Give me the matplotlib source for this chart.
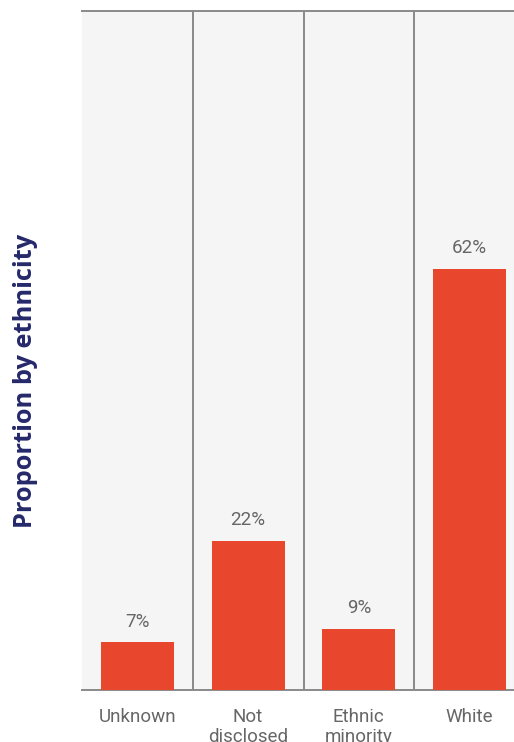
import matplotlib
matplotlib.use("Agg")
import matplotlib.pyplot as plt

categories = ["Unknown", "Not\ndisclosed", "Ethnic\nminority", "White"]
values = [7, 22, 9, 62]
value_labels = ["7%", "22%", "9%", "62%"]

fig = plt.figure(figsize=(5.14, 7.42), dpi=100)
L, R, T, B = 82, 525, 11, 690
W, H = 514, 742
ax = fig.add_axes([L / W, 1 - B / H, (R - L) / W, (B - T) / H])
ax.set_facecolor("#f5f5f5")

x = list(range(len(categories)))
ax.bar(x, values, width=0.66, color="#e8472e", zorder=3)
for xi, v, lab in zip(x, values, value_labels):
    ax.text(xi, v + 1.7, lab, ha="center", va="bottom", fontsize=13.5,
            color="#666666", family="Roboto")

for b in [0.5, 1.5, 2.5]:
    ax.axvline(b, color="#8a8a8a", lw=1.4, zorder=2)

ax.set_xlim(-0.5, 3.5)
ax.set_ylim(0, 100)
ax.set_yticks([])
ax.set_xticks(x)
ax.set_xticklabels(categories, fontsize=13.5, color="#666666", family="Roboto",
                   linespacing=1.15)
ax.tick_params(axis="x", length=0, pad=13)
for s in ["left", "right"]:
    ax.spines[s].set_visible(False)
for s in ["top", "bottom"]:
    ax.spines[s].set_color("#8a8a8a")
    ax.spines[s].set_linewidth(1.4)

fig.text(26 / W, 1 - 381 / H, "Proportion by ethnicity", rotation=90,
         ha="center", va="center", fontsize=18.3, fontweight="bold",
         color="#25286a", family="Open Sans")

fig.savefig("out.png", dpi=100)
